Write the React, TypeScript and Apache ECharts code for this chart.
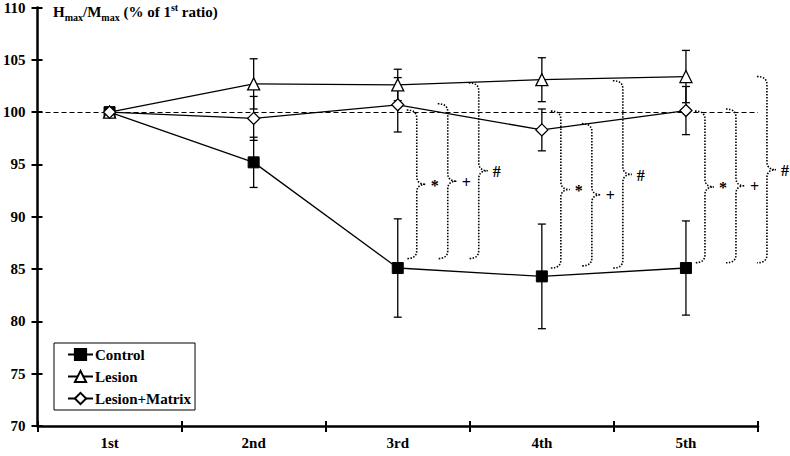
import React, { useEffect, useRef } from "react";
import * as echarts from "echarts";

const categories = ["1st", "2nd", "3rd", "4th", "5th"];
const yTicks = { min: 70, max: 110, interval: 5 };

const controlMean = [100, 95.2, 85.1, 84.3, 85.1];
const controlErr = [0, 2.4, 4.7, 5.0, 4.5];
const lesionMean = [100, 102.7, 102.6, 103.1, 103.4];
const lesionErr = [0, 2.4, 1.5, 2.1, 2.5];
const matrixMean = [100, 99.4, 100.7, 98.3, 100.15];
const matrixErr = [0, 2.1, 2.6, 2.0, 2.3];

const referenceValue = 100;

// significance braces: category index, top value, bottom value, slot, label
const braceCol = [2, 2, 2, 3, 3, 3, 4, 4, 4];
const braceTop = [100.2, 100.8, 102.8, 100.1, 98.9, 103.0, 100.1, 100.3, 103.4];
const braceBottom = [86.0, 86.0, 86.0, 85.1, 85.3, 85.1, 85.6, 85.6, 85.6];
const braceSlot = [0, 1, 2, 0, 1, 2, 0, 1, 2];
const braceLabel = ["*", "+", "#", "*", "+", "#", "*", "+", "#"];

const FONT = "Liberation Serif";

function errData(mean: number[], err: number[]) {
  const out: number[][] = [];
  mean.forEach((m, i) => {
    if (err[i] > 0) out.push([i, m - err[i], m + err[i]]);
  });
  return out;
}

function errorSeries(name: string, mean: number[], err: number[]) {
  return {
    type: "custom",
    name: name + "-err",
    z: 1,
    silent: true,
    itemStyle: { color: "#000" },
    encode: { x: 0, y: [1, 2] },
    data: errData(mean, err),
    renderItem: (params: any, api: any) => {
      const i = api.value(0);
      const lo = api.coord([i, api.value(1)]);
      const hi = api.coord([i, api.value(2)]);
      const x = lo[0];
      const cap = 4;
      const st = { stroke: "#000", lineWidth: 1.3 };
      return {
        type: "group",
        children: [
          { type: "line", shape: { x1: x, y1: lo[1], x2: x, y2: hi[1] }, style: st },
          { type: "line", shape: { x1: x - cap, y1: lo[1], x2: x + cap, y2: lo[1] }, style: st },
          { type: "line", shape: { x1: x - cap, y1: hi[1], x2: x + cap, y2: hi[1] }, style: st },
        ],
      };
    },
  };
}

const slotOffsets = [9, 40, 71];
const braceWidth = 19;

export default function App() {
  const ref = useRef<HTMLDivElement>(null);
  useEffect(() => {
    if (!ref.current) return;
    const chart = echarts.init(ref.current, null, { renderer: "svg" });
    const braceData = braceCol.map((c, i) => [c, braceTop[i], braceBottom[i], braceSlot[i]]);
    const mainLine = { color: "#000", width: 1.3 };
    const option: any = {
      animation: false,
      backgroundColor: "#fff",
      textStyle: { fontFamily: FONT },
      title: {
        left: 53,
        top: 2,
        padding: 0,
        text: "{m|H}{s|max}{m|/M}{s|max}{m| (% of 1}{p|st}{m| ratio)}",
        textStyle: {
          rich: {
            m: { fontSize: 15, fontWeight: "bold", fontFamily: FONT, color: "#000", lineHeight: 20 },
            s: { fontSize: 10, fontWeight: "bold", fontFamily: FONT, color: "#000", lineHeight: 8, verticalAlign: "bottom" },
            p: { fontSize: 10, fontWeight: "bold", fontFamily: FONT, color: "#000", lineHeight: 8, verticalAlign: "top" },
          },
        },
      },
      legend: {
        orient: "vertical",
        left: 54,
        top: 343,
        padding: [4, 4, 4, 13],
        itemWidth: 25,
        itemHeight: 14,
        itemGap: 7,
        borderColor: "#000",
        borderWidth: 1,
        borderRadius: 0,
        backgroundColor: "#fff",
        data: ["Control", "Lesion", "Lesion+Matrix"],
        textStyle: { fontSize: 15, fontWeight: "bold", fontFamily: FONT, color: "#000", padding: [0, 0, 0, -3] },
      },
      grid: { left: 37, right: 32, top: 5.5, bottom: 30, containLabel: false },
      xAxis: [
        {
          type: "category",
          data: categories,
          boundaryGap: true,
          position: "bottom",
          axisLine: { lineStyle: { color: "#000", width: 2.5 } },
          axisTick: { show: true, interval: 0, length: 6, lineStyle: { color: "#000", width: 2 } },
          axisLabel: { fontSize: 15, fontWeight: "bold", fontFamily: FONT, color: "#000", margin: 9 },
          splitLine: { show: false },
        },
        {
          type: "category",
          data: categories,
          boundaryGap: true,
          position: "bottom",
          axisLine: { show: false },
          axisTick: { show: true, inside: true, interval: 0, length: 5, lineStyle: { color: "#000", width: 2 } },
          axisLabel: { show: false },
          splitLine: { show: false },
        },
      ],
      yAxis: [
        {
          type: "value",
          min: yTicks.min,
          max: yTicks.max,
          interval: yTicks.interval,
          position: "left",
          axisLine: { show: true, lineStyle: { color: "#000", width: 2.5 } },
          axisTick: { show: true, length: 6, lineStyle: { color: "#000", width: 2 } },
          axisLabel: { fontSize: 15, fontWeight: "bold", fontFamily: FONT, color: "#000", margin: 12 },
          splitLine: { show: false },
        },
        {
          type: "value",
          min: yTicks.min,
          max: yTicks.max,
          interval: yTicks.interval,
          position: "left",
          axisLine: { show: false },
          axisTick: { show: true, inside: true, length: 5, lineStyle: { color: "#000", width: 2 } },
          axisLabel: { show: false },
          splitLine: { show: false },
        },
      ],
      series: [
        errorSeries("Control", controlMean, controlErr),
        errorSeries("Lesion", lesionMean, lesionErr),
        errorSeries("Lesion+Matrix", matrixMean, matrixErr),
        {
          type: "custom",
          name: "braces",
          z: 1,
          silent: true,
          itemStyle: { color: "#000" },
          encode: { x: 0, y: [1, 2] },
          data: braceData,
          renderItem: (params: any, api: any) => {
            const idx = params.dataIndex;
            const c = api.value(0);
            const top = api.coord([c, api.value(1)]);
            const bot = api.coord([c, api.value(2)]);
            const slot = api.value(3);
            const x0 = top[0] + slotOffsets[slot];
            const xv = x0 + 10;
            const xt = x0 + braceWidth;
            const yt = top[1];
            const yb = bot[1];
            const ym = (yt + yb) / 2;
            const r = 8;
            const d =
              `M${x0} ${yt} Q${xv} ${yt} ${xv} ${yt + r} L${xv} ${ym - r} ` +
              `Q${xv} ${ym} ${xt} ${ym} Q${xv} ${ym} ${xv} ${ym + r} ` +
              `L${xv} ${yb - r} Q${xv} ${yb} ${x0} ${yb}`;
            return {
              type: "group",
              children: [
                {
                  type: "path",
                  shape: { pathData: d },
                  style: { stroke: "#000", fill: "none", lineWidth: 1.6, lineDash: [1.5, 1.5] },
                },
                {
                  type: "text",
                  x: xt + 5,
                  y: ym + 1,
                  style: {
                    text: braceLabel[idx],
                    fontSize: 16,
                    fontWeight: "bold",
                    fontFamily: FONT,
                    fill: "#000",
                    stroke: "none",
                    align: "left",
                    verticalAlign: "middle",
                  },
                },
              ],
            };
          },
        },
        {
          type: "line",
          name: "Control",
          data: controlMean,
          z: 3,
          symbol: "rect",
          symbolSize: 11,
          lineStyle: mainLine,
          itemStyle: { color: "#000", borderColor: "#000", borderWidth: 1 },
          markLine: {
            silent: true,
            symbol: "none",
            label: { show: false },
            lineStyle: { color: "#000", width: 1.2, type: [5, 3] },
            data: [{ yAxis: referenceValue }],
          },
        },
        {
          type: "line",
          name: "Lesion",
          data: lesionMean,
          z: 4,
          symbol: "triangle",
          symbolSize: 12,
          lineStyle: mainLine,
          itemStyle: { color: "#fff", borderColor: "#000", borderWidth: 1.3 },
        },
        {
          type: "line",
          name: "Lesion+Matrix",
          data: matrixMean,
          z: 5,
          symbol: "diamond",
          symbolSize: 12,
          lineStyle: mainLine,
          itemStyle: { color: "#fff", borderColor: "#000", borderWidth: 1.3 },
        },
      ],
    };
    chart.setOption(option);
    return () => chart.dispose();
  }, []);
  return <div ref={ref} style={{ width: 790, height: 456, position: "absolute", left: 0, top: 0 }} />;
}
